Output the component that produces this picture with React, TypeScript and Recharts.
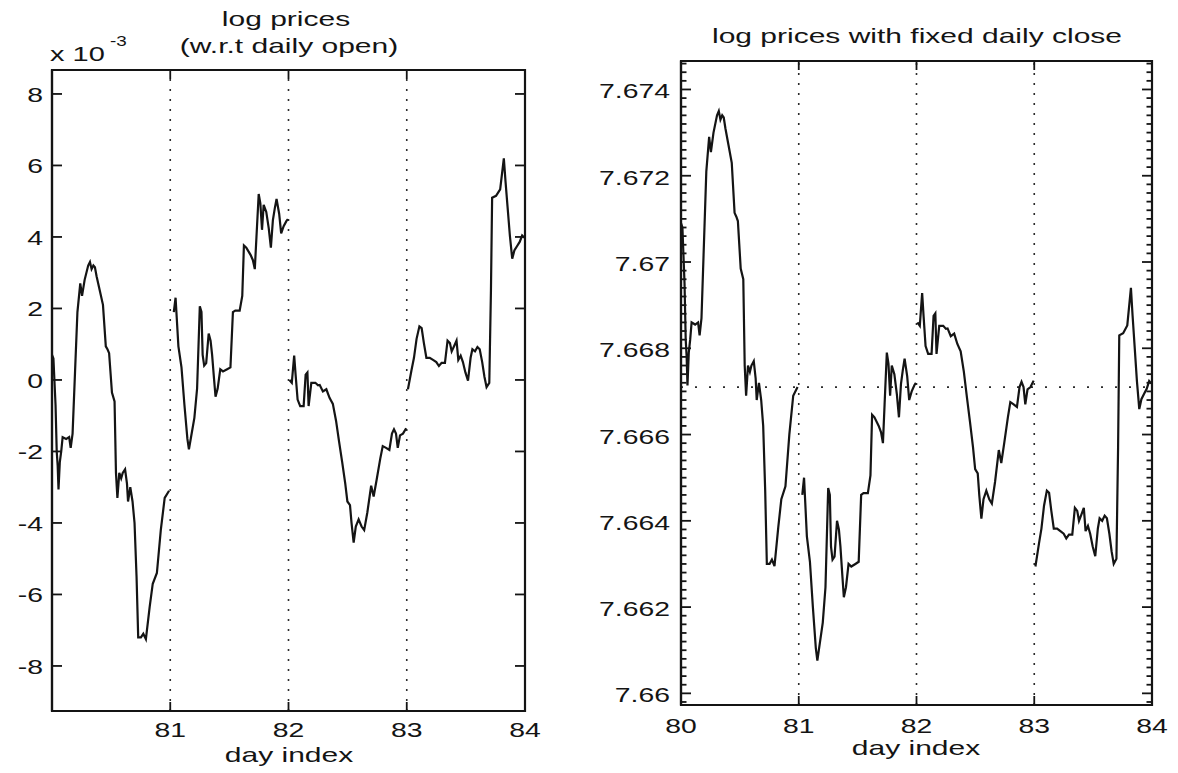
import React from 'react';
import { LineChart, Line, XAxis, YAxis, ReferenceLine, ReferenceArea } from 'recharts';

// ---------- data (day index, log price) ----------
// day 80
const day80Time = [80.000, 80.012, 80.030, 80.040, 80.048, 80.055, 80.066, 80.078, 80.090, 80.120,
  80.145, 80.158, 80.174, 80.195, 80.215, 80.239, 80.254, 80.276, 80.306, 80.321,
  80.335, 80.350, 80.363, 80.377, 80.404, 80.431, 80.455, 80.470, 80.483, 80.507,
  80.529, 80.541, 80.553, 80.569, 80.585, 80.598, 80.618, 80.634, 80.643, 80.662,
  80.681, 80.698, 80.715, 80.729, 80.752, 80.772, 80.794, 80.826, 80.852, 80.887,
  80.920, 80.953, 80.990];
// log price w.r.t. daily open, in units of 1e-3
const day80Open = [0.7, 0.6, -0.7, -2.0, -2.4, -3.06, -2.3, -2.0, -1.6, -1.65,
  -1.6, -1.9, -1.5, 0.24, 1.9, 2.7, 2.35, 2.8, 3.2, 3.3,
  3.1, 3.2, 3.15, 2.9, 2.5, 2.1, 0.94, 0.85, 0.75, -0.35,
  -0.6, -2.6, -3.3, -2.6, -2.75, -2.6, -2.5, -2.9, -3.4, -3.0,
  -3.4, -4.0, -5.5, -7.2, -7.2, -7.1, -7.25, -6.35, -5.7, -5.4,
  -4.2, -3.3, -3.1];
// log price with fixed daily close
const day80Close = [7.67090, 7.67080, 7.66950, 7.66820, 7.66780, 7.66714, 7.66790, 7.66820, 7.66860, 7.66855,
  7.66860, 7.66830, 7.66870, 7.67044, 7.67210, 7.67290, 7.67255, 7.67300, 7.67340, 7.67350,
  7.67330, 7.67340, 7.67335, 7.67310, 7.67270, 7.67230, 7.67114, 7.67105, 7.67095, 7.66985,
  7.66960, 7.66760, 7.66690, 7.66760, 7.66745, 7.66760, 7.66770, 7.66730, 7.66680, 7.66720,
  7.66680, 7.66620, 7.66470, 7.66300, 7.66300, 7.66310, 7.66295, 7.66385, 7.66450, 7.66480,
  7.66600, 7.66690, 7.66710];

// day 81
const day81Time = [81.030, 81.045, 81.069, 81.095, 81.120, 81.145, 81.158, 81.173, 81.204, 81.227,
  81.250, 81.264, 81.274, 81.287, 81.304, 81.325, 81.341, 81.354, 81.371, 81.383,
  81.401, 81.423, 81.446, 81.481, 81.509, 81.530, 81.550, 81.587, 81.609, 81.623,
  81.643, 81.679, 81.699, 81.715, 81.729, 81.748, 81.762, 81.776, 81.790, 81.812,
  81.833, 81.851, 81.868, 81.884, 81.899, 81.921, 81.938, 81.959, 81.983, 81.995];
const day81Open = [1.9, 2.3, 0.94, 0.35, -0.7, -1.65, -1.94, -1.65, -1.06, -0.24,
  2.06, 1.9, 0.7, 0.4, 0.47, 1.3, 1.1, 0.7, 0.0, -0.47,
  -0.24, 0.3, 0.24, 0.3, 0.35, 1.9, 1.94, 1.94, 2.35, 3.76,
  3.7, 3.5, 3.35, 3.1, 4.0, 5.2, 4.94, 4.2, 4.9, 4.7,
  4.24, 3.7, 4.47, 4.8, 5.06, 4.65, 4.1, 4.3, 4.45, 4.5];
const day81Close = [7.66460, 7.66500, 7.66364, 7.66305, 7.66200, 7.66105, 7.66076, 7.66105, 7.66164, 7.66246,
  7.66476, 7.66460, 7.66340, 7.66310, 7.66317, 7.66400, 7.66380, 7.66340, 7.66270, 7.66223,
  7.66246, 7.66300, 7.66294, 7.66300, 7.66305, 7.66460, 7.66464, 7.66464, 7.66505, 7.66646,
  7.66640, 7.66620, 7.66605, 7.66580, 7.66670, 7.66790, 7.66764, 7.66690, 7.66760, 7.66740,
  7.66694, 7.66640, 7.66717, 7.66750, 7.66776, 7.66735, 7.66680, 7.66700, 7.66715, 7.66720];

// day 82
const day82Time = [82.008, 82.028, 82.048, 82.060, 82.077, 82.099, 82.128, 82.145, 82.160, 82.170,
  82.193, 82.227, 82.250, 82.264, 82.291, 82.320, 82.347, 82.375, 82.402, 82.428,
  82.454, 82.480, 82.498, 82.520, 82.533, 82.551, 82.569, 82.593, 82.618, 82.640,
  82.667, 82.699, 82.720, 82.745, 82.776, 82.797, 82.825, 82.853, 82.875, 82.892,
  82.909, 82.924, 82.943, 82.968, 82.995];
const day82Open = [0.0, -0.08, 0.68, 0.15, -0.55, -0.73, -0.73, 0.15, 0.21, -0.73,
  -0.08, -0.08, -0.15, -0.14, -0.32, -0.26, -0.5, -0.67, -1.14, -1.73,
  -2.3, -2.9, -3.4, -3.5, -4.0, -4.55, -4.1, -3.9, -4.1, -4.2,
  -3.7, -2.96, -3.26, -2.8, -2.2, -1.85, -1.9, -1.96, -1.5, -1.38,
  -1.5, -1.9, -1.55, -1.5, -1.35];
const day82Close = [7.66860, 7.66852, 7.66928, 7.66875, 7.66805, 7.66787, 7.66787, 7.66875, 7.66881, 7.66787,
  7.66852, 7.66852, 7.66845, 7.66846, 7.66828, 7.66834, 7.66810, 7.66793, 7.66746, 7.66687,
  7.66630, 7.66570, 7.66520, 7.66510, 7.66460, 7.66405, 7.66450, 7.66470, 7.66450, 7.66440,
  7.66490, 7.66564, 7.66534, 7.66580, 7.66640, 7.66675, 7.66670, 7.66664, 7.66710, 7.66722,
  7.66710, 7.66670, 7.66705, 7.66710, 7.66725];

// day 83
const day83Time = [83.010, 83.040, 83.061, 83.083, 83.107, 83.126, 83.145, 83.166, 83.194, 83.222,
  83.250, 83.272, 83.295, 83.323, 83.345, 83.365, 83.380, 83.401, 83.421, 83.436,
  83.456, 83.475, 83.496, 83.518, 83.540, 83.555, 83.577, 83.598, 83.617, 83.638,
  83.657, 83.675, 83.698, 83.712, 83.722, 83.755, 83.790, 83.821, 83.835, 83.852,
  83.872, 83.892, 83.910, 83.932, 83.955, 83.976, 83.995];
const day83Open = [-0.26, 0.27, 0.62, 1.15, 1.5, 1.45, 1.03, 0.62, 0.62, 0.56,
  0.5, 0.39, 0.48, 0.48, 1.1, 1.03, 0.8, 0.95, 1.1, 0.56,
  0.68, 0.5, 0.21, -0.02, 0.62, 0.86, 0.8, 0.92, 0.86, 0.5,
  0.09, -0.2, -0.08, 2.5, 5.1, 5.15, 5.33, 6.2, 5.56, 4.86,
  4.04, 3.39, 3.62, 3.74, 3.86, 4.04, 3.98];
const day83Close = [7.66294, 7.66347, 7.66382, 7.66435, 7.66470, 7.66465, 7.66423, 7.66382, 7.66382, 7.66376,
  7.66370, 7.66359, 7.66368, 7.66368, 7.66430, 7.66423, 7.66400, 7.66415, 7.66430, 7.66376,
  7.66388, 7.66370, 7.66341, 7.66318, 7.66382, 7.66406, 7.66400, 7.66412, 7.66406, 7.66370,
  7.66329, 7.66300, 7.66312, 7.66570, 7.66830, 7.66835, 7.66853, 7.66940, 7.66876, 7.66806,
  7.66724, 7.66659, 7.66682, 7.66694, 7.66706, 7.66724, 7.66718];

// ---------- axes ----------
const leftXTicks = [81, 82, 83, 84];
const rightXTicks = [80, 81, 82, 83, 84];
const leftYTicks = [-8, -6, -4, -2, 0, 2, 4, 6, 8];
const rightYMajorTicks = [7.66, 7.662, 7.664, 7.666, 7.668, 7.67, 7.672, 7.674];
const dayBoundaries = [81, 82, 83];
const fixedClose = 7.6671;
const leftYDomain: [number, number] = [-9.26, 8.67];
const rightYDomain: [number, number] = [7.65973, 7.67466];
const xDomain: [number, number] = [80, 84];

// minor tick positions for the right chart (every 0.0002)
const rightYTicks: number[] = [];
for (let k = 76598; k <= 76746; k += 2) rightYTicks.push(k / 10000);

const zip = (t: number[], v: number[]) => t.map((x, i) => ({ t: x, v: v[i] }));
const leftSeries = [zip(day80Time, day80Open), zip(day81Time, day81Open), zip(day82Time, day82Open), zip(day83Time, day83Open)];
const rightSeries = [zip(day80Time, day80Close), zip(day81Time, day81Close), zip(day82Time, day82Close), zip(day83Time, day83Close)];

const FONT = '"Liberation Sans", Arial, Helvetica, sans-serif';
const INK = '#141414';

function makeXTick(plotTop: number, labelDy: number) {
  return (props: any) => {
    const { x, y, payload } = props;
    const v = payload.value;
    const inner = v > xDomain[0] && v < xDomain[1];
    return (
      <g>
        {inner && <line x1={x} y1={y} x2={x} y2={y - 9} stroke={INK} strokeWidth={1.8} />}
        {inner && <line x1={x} y1={plotTop} x2={x} y2={plotTop + 9} stroke={INK} strokeWidth={1.8} />}
        <text transform={`translate(${x},${y + labelDy}) scale(1.35,1)`} textAnchor="middle"
          fontSize={21} fontFamily={FONT} fill={INK}>{String(v)}</text>
      </g>
    );
  };
}

function makeYTick(plotRight: number, isMajor: (v: number) => boolean, fmt: (v: number) => string, gap: number, labelDy: number) {
  return (props: any) => {
    const { x, y, payload } = props;
    const v = payload.value;
    const major = isMajor(v);
    const len = major ? 10 : 5.5;
    return (
      <g>
        <line x1={x} y1={y} x2={x + len} y2={y} stroke={INK} strokeWidth={1.8} />
        <line x1={plotRight - len} y1={y} x2={plotRight} y2={y} stroke={INK} strokeWidth={1.8} />
        {major && (
          <text transform={`translate(${x - gap},${y + labelDy}) scale(1.35,1)`} textAnchor="end"
            fontSize={21} fontFamily={FONT} fill={INK}>{fmt(v)}</text>
        )}
      </g>
    );
  };
}

const isRightMajor = (v: number) => rightYMajorTicks.some((m) => Math.abs(m - v) < 1e-7);
const fmtRight = (v: number) => String(Number(v.toFixed(3)));

function WideText({ x, y, size, sx, anchor, children }: any) {
  return (
    <text transform={`translate(${x},${y}) scale(${sx},1)`} textAnchor={anchor || 'middle'}
      fontSize={size} fontFamily={FONT} fill={INK}>{children}</text>
  );
}

export default function App() {
  // left chart geometry (local == global)
  const L = { w: 560, h: 773, top: 70, bottom: 711, left: 52, right: 525 };
  // right chart geometry (div at x=560)
  const R = { off: 560, w: 618, h: 773, top: 61, bottom: 705, left: 121, right: 592 };

  return (
    <div style={{ position: 'absolute', left: 0, top: 0, width: 1178, height: 773, background: '#fff', overflow: 'hidden' }}>
      <div style={{ position: 'absolute', left: 0, top: 0 }}>
        <LineChart width={L.w} height={L.h}
          margin={{ top: L.top, right: L.w - L.right, bottom: L.h - L.bottom - 40, left: 0 }}>
          <XAxis type="number" dataKey="t" domain={xDomain} ticks={leftXTicks} allowDataOverflow
            height={40} tickSize={0} tickMargin={0} interval={0}
            axisLine={{ stroke: INK, strokeWidth: 2.2 }} tickLine={false}
            tick={makeXTick(L.top, 26)} />
          <YAxis type="number" domain={leftYDomain} ticks={leftYTicks} allowDataOverflow
            width={L.left} tickSize={0} tickMargin={0} interval={0}
            axisLine={{ stroke: INK, strokeWidth: 2.2 }} tickLine={false}
            tick={makeYTick(L.right, () => true, (v) => String(v), 9, 8)} />
          <ReferenceArea x1={xDomain[0]} x2={xDomain[1]} y1={leftYDomain[0]} y2={leftYDomain[1]}
            fill="none" fillOpacity={0} stroke={INK} strokeWidth={2.2} />
          {dayBoundaries.map((d) => (
            <ReferenceLine key={d} x={d} stroke="#2a2a2a" strokeWidth={1.6} strokeDasharray="2 8" />
          ))}
          {leftSeries.map((s, i) => (
            <Line key={i} data={s} dataKey="v" type="linear" stroke={INK} strokeWidth={2.2}
              dot={false} activeDot={false} isAnimationActive={false} />
          ))}
        </LineChart>
      </div>

      <div style={{ position: 'absolute', left: R.off, top: 0 }}>
        <LineChart width={R.w} height={R.h}
          margin={{ top: R.top, right: R.w - R.right, bottom: R.h - R.bottom - 40, left: 0 }}>
          <XAxis type="number" dataKey="t" domain={xDomain} ticks={rightXTicks} allowDataOverflow
            height={40} tickSize={0} tickMargin={0} interval={0}
            axisLine={{ stroke: INK, strokeWidth: 2.2 }} tickLine={false}
            tick={makeXTick(R.top, 28)} />
          <YAxis type="number" domain={rightYDomain} ticks={rightYTicks} allowDataOverflow
            width={R.left} tickSize={0} tickMargin={0} interval={0}
            axisLine={{ stroke: INK, strokeWidth: 2.2 }} tickLine={false}
            tick={makeYTick(R.right, isRightMajor, fmtRight, 11, 9)} />
          <ReferenceArea x1={xDomain[0]} x2={xDomain[1]} y1={rightYDomain[0]} y2={rightYDomain[1]}
            fill="none" fillOpacity={0} stroke={INK} strokeWidth={2.2} />
          {dayBoundaries.map((d) => (
            <ReferenceLine key={d} x={d} stroke="#2a2a2a" strokeWidth={1.6} strokeDasharray="2 8" />
          ))}
          <ReferenceLine y={fixedClose} stroke="#2a2a2a" strokeWidth={1.6} strokeDasharray="2 12" />
          {rightSeries.map((s, i) => (
            <Line key={i} data={s} dataKey="v" type="linear" stroke={INK} strokeWidth={2.2}
              dot={false} activeDot={false} isAnimationActive={false} />
          ))}
        </LineChart>
      </div>

      <svg width={1178} height={773} style={{ position: 'absolute', left: 0, top: 0, pointerEvents: 'none' }}>
        <WideText x={286} y={26} size={20} sx={1.5}>log prices</WideText>
        <WideText x={289} y={53} size={20} sx={1.5}>(w.r.t daily open)</WideText>
        <WideText x={50} y={61} size={20} sx={1.45} anchor="start">x 10</WideText>
        <WideText x={110} y={46} size={14} sx={1.35} anchor="start">-3</WideText>
        <WideText x={289} y={762} size={20} sx={1.5}>day index</WideText>
        <WideText x={917} y={43} size={20} sx={1.5}>log prices with fixed daily close</WideText>
        <WideText x={916} y={755} size={20} sx={1.5}>day index</WideText>
      </svg>
    </div>
  );
}
